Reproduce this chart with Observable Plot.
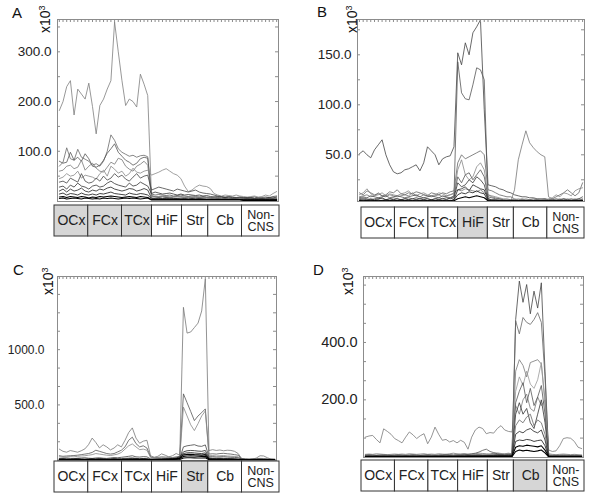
<!DOCTYPE html>
<html><head><meta charset="utf-8">
<script src="https://cdn.jsdelivr.net/npm/d3@7"></script>
<script src="https://cdn.jsdelivr.net/npm/@observablehq/plot@0.6"></script>
<style>
body{margin:0;background:#fff;font-family:"Liberation Sans",Arial,Helvetica,sans-serif;}
#wrap{position:relative;width:600px;height:498px;overflow:hidden;background:#fff;}
#wrap svg{position:absolute;}
.lt{position:absolute;font-size:15px;line-height:15px;color:#111;}
.ex{position:absolute;font-size:14px;line-height:14px;color:#111;transform:rotate(-90deg);transform-origin:left top;white-space:nowrap;}
.ex sup{font-size:9px;vertical-align:5px;line-height:0;}
</style></head><body><div id="wrap"></div>
<script>
// ---------- categories ----------
const regions = ["OCx","FCx","TCx","HiF","Str","Cb","Non-CNS"];
const regionCounts = [9,9,8,8,7,9,10];   // samples per region (60 total)

// ---------- panel A (x10^3) ----------
const A1 = [182,200,230,242,173,225,215,205,237,190, 135,192,205,225,242,360,300,242,192,205, 200,189,255,235,212,12,8,7,6,7, 8,6,5,6,6,5,6,5,6,5, 5,4,5,4,4,5,4,4,4,3, 3,3,4,3,3,4,3,3,4,3];
const A2 = [70,78,107,85,82,104,88,84,80,72, 75,70,80,100,133,122,105,98,94,90, 92,88,91,92,89,10,9,8,9,8, 7,8,9,8,7,8,7,6,7,6, 7,6,5,6,5,6,5,4,5,4, 5,4,5,4,5,4,5,4,5,6];
const A3 = [80,76,78,98,82,88,80,95,85,70, 68,72,82,96,105,115,98,90,82,78, 72,76,85,88,86,14,12,13,12,11, 12,10,11,12,10,9,10,9,8,9, 8,7,8,7,6,7,6,5,6,5, 6,5,6,5,4,5,4,5,6,5];
const A4 = [60,62,70,72,65,68,82,62,70,76, 66,60,58,68,78,74,86,83,70,64, 60,70,74,80,72,9,8,9,10,9, 8,9,8,9,8,7,8,7,8,7, 6,7,6,5,6,5,6,5,4,5, 4,5,4,5,4,5,4,5,4,4];
const A5 = [45,48,55,50,52,60,46,52,50,48, 44,55,62,50,70,64,56,60,50,55, 66,58,56,60,62,52,55,58,62,65, 60,55,52,45,30,19,22,28,32,30, 29,25,15,12,10,12,11,10,12,10, 9,8,9,10,8,9,12,10,15,19];
const A6 = [38,40,36,46,42,38,55,40,36,38, 46,40,50,42,46,55,48,52,44,40, 48,55,46,50,52,22,25,28,26,24, 22,20,24,22,20,18,20,22,18,16, 15,14,12,10,9,8,9,8,7,8, 7,6,7,8,6,7,8,7,9,10];
const A7 = [28,30,24,32,28,36,30,28,24,30, 32,28,30,36,40,35,32,30,28,36, 30,32,38,34,30,15,18,16,14,15, 16,14,12,14,12,13,12,11,12,10, 11,9,8,9,8,7,8,7,6,7, 6,7,6,5,6,5,6,7,6,8];
const A8 = [20,24,18,24,20,22,26,20,18,22, 20,24,22,26,28,24,22,20,22,25, 24,20,22,25,22,6,5,6,5,6, 5,4,5,4,5,4,5,4,5,4, 3,4,3,4,3,4,3,4,3,3, 3,4,3,3,3,3,3,4,3,3];
const A9 = [14,16,12,15,14,12,16,13,12,14, 12,15,14,16,18,15,14,13,12,16, 14,13,15,14,12,5,4,5,4,5, 4,5,4,4,4,3,4,3,4,3, 3,3,3,3,3,3,3,3,3,3, 3,3,3,3,3,3,3,3,3,3];
const A10 = [8,9,7,9,8,7,9,8,6,8, 7,9,8,9,10,9,8,7,8,9, 8,7,9,8,7,3,3,3,3,3, 3,3,3,3,3,3,3,3,3,3, 3,3,3,3,3,3,3,3,3,3, 2,2,2,2,2,2,2,2,2,2];
const A11 = [5,6,4,5,6,5,4,6,5,4, 5,4,6,5,6,5,4,5,6,5, 6,5,4,5,6,2,2,2,2,2, 2,2,2,2,2,2,2,2,2,2, 2,2,2,2,2,2,2,2,2,2, 1,1,1,1,1,1,1,1,1,1];

// ---------- panel B (x10^3) ----------
const B1 = [51,54,50,47,55,60,65,50,40,33, 31,32,35,36,38,40,34,42,58,54, 50,40,46,48,49,58,152,140,162,150, 172,178,185,95,20,19,18,16,15,13, 12,10,9,8,8,7,7,6,6,6, 5,5,6,5,6,5,6,5,6,5];
const B2 = [6,7,6,5,6,7,6,5,6,7, 6,5,6,7,6,5,6,7,6,5, 6,7,6,5,7,8,143,112,106,105, 120,137,135,125,6,5,5,5,4,4, 4,4,4,4,4,4,4,4,4,4, 4,4,4,4,4,4,4,4,4,4];
const B3 = [8,9,10,8,9,12,9,8,10,9, 8,9,10,9,12,9,8,10,9,8, 9,10,8,9,10,12,15,14,16,15, 14,13,15,12,10,8,7,6,5,4, 3,15,45,60,74,62,57,53,50,48, 8,6,5,6,5,6,5,6,5,6];
const B4 = [12,10,14,12,10,11,9,10,13,12, 15,11,10,12,11,13,12,10,9,12, 11,10,12,11,13,14,42,50,46,48, 50,52,54,50,15,14,12,10,9,8, 8,6,5,6,5,5,6,5,5,6, 5,6,8,10,12,15,12,9,12,22];
const B5 = [10,12,16,11,9,10,12,9,11,10, 9,11,12,14,10,9,11,12,10,9, 10,12,11,9,10,11,35,45,30,25, 28,38,42,35,10,9,8,7,6,6, 5,5,6,5,6,5,5,6,5,5, 6,7,10,8,12,11,9,14,16,17];
const B6 = [7,8,7,9,8,7,8,9,7,8, 9,8,7,8,9,10,8,7,8,9, 8,7,9,8,7,9,28,22,30,32, 25,30,35,28,8,7,6,6,5,5, 5,5,4,5,4,5,4,5,4,5, 4,5,4,5,6,5,4,5,6,8];
const B7 = [5,6,5,6,5,6,7,5,6,5, 6,5,6,5,6,7,6,5,6,5, 6,5,6,7,6,7,22,18,20,25, 22,28,25,20,6,5,5,4,4,4, 4,4,4,4,4,4,4,4,4,4, 4,4,4,4,4,4,4,4,4,4];
const B8 = [4,5,4,5,4,5,4,5,4,5, 4,5,4,5,4,5,4,5,4,5, 4,5,4,5,4,5,15,16,18,14, 20,18,16,15,5,4,4,4,4,4, 4,4,4,4,4,4,4,4,4,4, 4,4,4,4,4,4,4,4,4,4];
const B9 = [4,4,4,4,4,4,4,4,4,4, 4,4,4,4,4,4,4,4,4,4, 4,4,4,4,4,5,10,12,11,13, 12,14,12,11,4,4,4,4,4,4, 4,4,4,4,4,4,4,4,4,4, 4,4,4,4,4,4,4,4,4,4];
const B10 = [4,4,4,4,4,4,4,4,4,4, 4,4,4,4,4,4,4,4,4,4, 4,4,4,4,4,4,6,7,8,7, 8,9,8,7,4,4,4,4,4,4, 4,4,4,4,4,4,4,4,4,4, 4,4,4,4,4,4,4,4,4,4];

// ---------- panel C (x10^3) ----------
const C1 = [100,80,72,87,80,72,85,102,140,200, 160,111,139,120,93,110,139,120,180,250, 292,200,153,172,180,40,27,35,57,45, 30,40,60,45,1383,1150,1160,1200,1240,1350, 1640,87,95,88,92,85,90,88,80,60, 10,6,5,8,20,40,38,22,10,8];
const C2 = [40,35,38,40,42,45,50,55,60,70, 90,80,70,60,55,60,75,90,120,180, 208,150,120,130,110,30,20,25,30,28, 26,24,30,35,600,520,440,358,400,430, 464,55,58,55,60,62,58,55,50,45, 15,12,10,12,14,16,15,12,10,8];
const C3 = [30,28,30,32,30,35,38,40,45,50, 60,55,50,45,42,48,55,70,100,130, 147,120,95,100,90,25,20,18,22,20, 18,20,22,25,480,400,320,268,330,400, 445,40,42,38,40,42,38,36,34,30, 12,10,9,10,11,12,10,9,8,7];
const C4 = [15,18,20,16,14,18,20,22,18,16, 20,22,18,16,20,24,22,26,30,35, 40,30,28,32,30,12,10,12,14,12, 10,12,14,15,120,130,135,140,128,125, 138,30,32,28,30,32,28,26,25,22, 10,8,7,8,9,10,8,7,6,6];
const C5 = [10,12,11,10,12,13,11,10,12,11, 12,14,12,10,11,13,12,14,16,18, 20,16,14,15,14,8,8,9,10,12, 14,16,20,30,75,85,88,86,82,80, 88,20,18,16,18,17,15,14,12,10, 8,6,6,7,6,7,6,5,6,5];
const C6 = [8,9,8,7,8,9,8,7,8,9, 8,9,10,8,9,10,9,8,10,12, 14,12,10,11,10,6,6,7,8,9, 10,12,15,22,60,66,68,65,62,60, 66,14,12,11,12,11,10,10,9,8, 6,5,5,6,5,6,5,5,5,5];
const C7 = [6,7,6,5,6,7,6,5,6,7, 6,7,6,5,6,7,6,5,6,7, 8,7,6,7,6,5,5,6,6,7, 8,9,12,18,48,52,54,50,48,46, 50,10,9,8,9,8,8,7,7,6, 5,5,5,5,5,5,5,5,5,5];
const C8 = [4,5,4,5,4,5,4,5,4,5, 4,5,4,5,4,5,4,5,4,5, 5,4,5,4,5,4,4,4,5,5, 6,7,9,14,34,38,40,38,35,34, 36,7,6,6,6,5,5,5,5,5, 4,4,4,4,4,4,4,4,4,4];
const C9 = [3,3,3,3,3,3,3,3,3,3, 3,3,3,3,3,3,3,3,3,3, 3,3,3,3,3,3,3,3,3,3, 3,3,4,6,20,22,22,21,20,20, 22,3,3,3,3,3,3,3,3,3, 3,3,3,3,3,3,3,3,3,3];

// ---------- panel D (x10^3) ----------
const D1 = [70,74,76,62,50,99,90,80,65,58, 50,70,88,78,65,75,82,47,70,105, 80,59,62,53,58,50,59,52,28,70, 95,105,100,82,86,84,100,110,95,90, 88,180,150,200,220,170,160,210,180,200, 25,20,22,40,65,68,66,55,35,30];
const D2 = [8,9,8,7,8,9,8,7,8,9, 8,7,8,9,8,7,8,9,8,7, 8,9,10,9,8,9,10,11,10,9, 10,9,8,9,10,12,10,9,10,12, 10,480,614,540,602,500,579,520,608,300, 8,7,6,7,8,7,6,7,6,5];
const D3 = [6,7,6,5,6,7,6,5,6,7, 6,5,6,7,6,5,6,7,6,5, 6,7,8,7,6,7,8,9,8,7, 8,7,6,7,8,9,8,7,8,10, 9,475,430,487,470,463,480,504,470,280, 6,5,5,6,5,6,5,5,5,5];
const D4 = [10,11,10,12,11,10,9,10,11,10, 11,10,12,11,10,11,12,10,11,10, 12,11,10,12,14,12,11,12,10,11, 12,14,13,12,11,14,15,13,12,14, 12,300,340,320,280,330,335,340,325,200, 12,10,9,10,11,10,9,10,9,8];
const D5 = [5,6,5,6,5,6,5,6,5,6, 5,6,5,6,5,6,5,6,5,6, 6,7,6,7,6,7,8,7,8,9, 8,9,10,9,8,10,12,10,11,12, 10,230,280,250,300,255,240,270,330,180, 6,5,5,6,5,6,5,5,5,5];
const D6 = [5,4,5,6,5,4,5,6,5,4, 5,6,5,4,5,6,5,4,5,6, 5,6,7,6,5,6,7,8,10,12, 14,18,24,28,20,16,12,10,8,9, 8,190,230,260,190,240,180,210,250,150, 5,4,5,4,5,4,5,4,5,4];
const D7 = [4,5,4,5,4,5,4,5,4,5, 4,5,4,5,4,5,4,5,4,5, 4,5,4,5,4,5,6,5,6,5, 6,7,6,5,6,7,8,7,6,7, 6,150,190,150,170,120,100,150,200,120, 4,4,4,4,4,4,4,4,4,4];
const D8 = [3,4,3,4,3,4,3,4,3,4, 3,4,3,4,3,4,3,4,3,4, 4,3,4,3,4,3,4,5,4,5, 5,4,5,6,5,4,5,6,5,6, 5,110,130,120,140,150,110,130,120,80, 3,3,3,3,3,3,3,3,3,3];
const D9 = [3,3,3,3,3,3,3,3,3,3, 3,3,3,3,3,3,3,3,3,3, 3,3,3,3,3,3,4,4,4,4, 4,4,4,4,4,5,5,5,5,5, 5,80,90,85,95,100,90,85,95,60, 3,3,3,3,3,3,3,3,3,3];
const D10 = [2,3,2,3,2,3,2,3,2,3, 2,3,2,3,2,3,2,3,2,3, 3,3,3,3,3,3,3,3,3,3, 3,3,3,4,4,4,4,4,4,4, 4,55,60,58,62,60,55,58,60,40, 2,2,2,2,2,2,2,2,2,2];
const D11 = [2,2,2,2,2,2,2,2,2,2, 2,2,2,2,2,2,2,2,2,2, 2,2,2,2,2,2,2,2,3,3, 3,3,3,3,3,3,3,3,3,3, 3,35,40,38,42,40,38,36,40,25, 2,2,2,2,2,2,2,2,2,2];
const D12 = [1,1,1,1,1,1,1,1,1,1, 1,1,1,1,1,1,1,1,1,1, 1,1,1,1,1,1,1,1,2,2, 2,2,2,2,2,2,2,2,2,2, 2,20,25,22,24,22,20,22,25,15, 1,1,1,1,1,1,1,1,1,1];

// ---------- tick labels ----------
const yLabelsA = [100,200,300];
const yLabelsB = [50,100,150];
const yLabelsC = [500,1000];
const yLabelsD = [200,400];

// ---------- drawing ----------
const FONT = '"Liberation Sans", Arial, Helvetica, sans-serif';
const wrap = document.getElementById("wrap");
const nSamples = d3.sum(regionCounts);
const sampleIdx = d3.range(nSamples);

function linePanel(o) {
  const W = 300, H = 250;
  const [mt, mr, mb, ml] = o.margins;
  const pw = W - ml - mr, ph = H - mt - mb;
  const minor = d3.range(o.minor, o.domain[1], o.minor);
  const marks = o.series.map((s, k) =>
    Plot.line(s, {x: (d, i) => i + 0.5, y: d => d, stroke: o.colors[k],
      strokeWidth: o.colors[k] === "#000" ? 1.1 : 0.8, strokeLinejoin: "miter"}));
  marks.push(
    Plot.frame({stroke: "#8c8c8c", strokeWidth: 1}),
    Plot.tickY(minor, {y: d => d, insetRight: pw - 3, stroke: "#8c8c8c"}),
    Plot.tickY(minor, {y: d => d, insetLeft: pw - 3, stroke: "#8c8c8c"}),
    Plot.tickX(sampleIdx, {x: i => i + 0.5, insetBottom: ph - 3, stroke: "#8c8c8c"}),
    Plot.text(o.labels, {y: d => d, frameAnchor: "left", textAnchor: "end", dx: -o.pad,
      text: d => d3.format(".1f")(d), fontSize: o.fontSize, fill: "#222"})
  );
  const svg = Plot.plot({
    width: W, height: H, marginTop: mt, marginRight: mr, marginBottom: mb, marginLeft: ml,
    x: {domain: [0, nSamples], axis: null},
    y: {domain: o.domain, axis: null},
    style: {fontFamily: FONT, background: "transparent", overflow: "visible"},
    marks
  });
  svg.style.left = o.left + "px"; svg.style.top = o.top + "px";
  wrap.appendChild(svg);
}

function strip(o) {
  const ends = d3.cumsum(regionCounts);
  const rows = regions.map((r, i) => ({r, x1: ends[i] - regionCounts[i], x2: ends[i], hl: o.hl.includes(r)}));
  const svg = Plot.plot({
    width: 300, height: 33, marginTop: 1, marginBottom: 1, marginLeft: o.ml, marginRight: o.mr,
    x: {domain: [0, nSamples], axis: null},
    y: {domain: [0, 1], axis: null},
    style: {fontFamily: FONT, background: "transparent", overflow: "visible"},
    marks: [
      Plot.rect(rows, {x1: "x1", x2: "x2", y1: 0, y2: 1, fill: d => d.hl ? "#d6d6d6" : "#fff", stroke: "#333", strokeWidth: 1}),
      Plot.text(rows.filter(d => d.r !== "Non-CNS"), {x: d => (d.x1 + d.x2) / 2, y: 0.5, text: "r", fontSize: 14, fill: "#222"}),
      Plot.text(rows.filter(d => d.r === "Non-CNS"), {x: d => (d.x1 + d.x2) / 2, y: 0.5, text: d => "Non-\nCNS", fontSize: 12.5, lineHeight: 1, fill: "#222"})
    ]
  });
  svg.style.left = o.left + "px"; svg.style.top = o.top + "px";
  wrap.appendChild(svg);
}

function label(txt, left, top) {
  const d = document.createElement("div"); d.className = "lt"; d.textContent = txt;
  d.style.left = left + "px"; d.style.top = top + "px"; wrap.appendChild(d);
}
function exp(left, bottom) {
  const d = document.createElement("div"); d.className = "ex"; d.innerHTML = "x10<sup>3</sup>";
  d.style.left = left + "px"; d.style.top = bottom + "px"; wrap.appendChild(d);
}

const grayA = ["#7d7d7d","#6a6a6a","#555","#777","#888","#444","#333","#222","#111","#000","#000"];
const grayB = ["#444","#555","#777","#666","#888","#555","#333","#222","#111","#000"];
const grayC = ["#777","#555","#888","#444","#222","#111","#000","#000","#000"];
const grayD = ["#7a7a7a","#444","#666","#777","#999","#555","#333","#666","#222","#111","#000","#000"];

linePanel({series: [A1,A2,A3,A4,A5,A6,A7,A8,A9,A10,A11], colors: grayA, domain: [-1, 365], minor: 50,
  labels: yLabelsA, pad: 6, fontSize: 13.5, margins: [19, 22, 49, 57], left: 0, top: 0});
linePanel({series: [B1,B2,B3,B4,B5,B6,B7,B8,B9,B10], colors: grayB, domain: [3.3, 185.3], minor: 25,
  labels: yLabelsB, pad: 6, fontSize: 13.5, margins: [19, 16, 49, 57], left: 300, top: 0});
linePanel({series: [C1,C2,C3,C4,C5,C6,C7,C8,C9], colors: grayC, domain: [-3, 1662], minor: 500 / 3,
  labels: yLabelsC, pad: 13, fontSize: 12, margins: [26, 24, 40, 57], left: 0, top: 250});
linePanel({series: [D1,D2,D3,D4,D5,D6,D7,D8,D9,D10,D11,D12], colors: grayD, domain: [-1, 630], minor: 200 / 3,
  labels: yLabelsD, pad: 6, fontSize: 14.5, margins: [26, 17, 43, 63], left: 300, top: 250});

strip({hl: ["OCx","FCx","TCx"], ml: 54, mr: 21, left: 0, top: 204});
strip({hl: ["HiF"], ml: 61, mr: 16, left: 300, top: 206});
strip({hl: ["Str"], ml: 54, mr: 21, left: 0, top: 460});
strip({hl: ["Cb"], ml: 61, mr: 16, left: 300, top: 459});

label("A", 12, 5); label("B", 317, 4); label("C", 13, 262); label("D", 313, 262);
exp(38, 33); exp(345, 33); exp(41, 295); exp(341, 295);
</script></body></html>
